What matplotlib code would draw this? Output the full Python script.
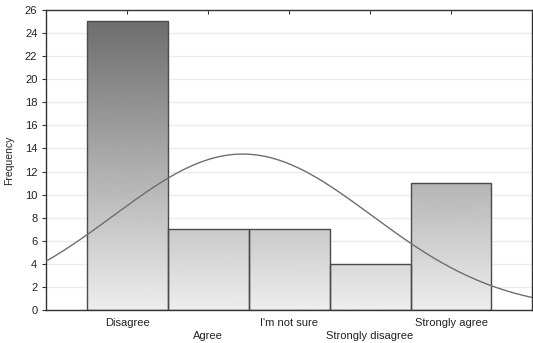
import numpy as np
import matplotlib.pyplot as plt

plt.rcParams['font.family'] = ['Liberation Sans', 'DejaVu Sans']

categories = ['Disagree', 'Agree', "I'm not sure", 'Strongly disagree', 'Strongly agree']
counts = [25, 7, 7, 4, 11]
yticks = list(range(0, 27, 2))

fig = plt.figure(figsize=(5.33, 3.43), dpi=100)
ax = fig.add_axes([0.087, 0.096, 0.911, 0.875])

x = np.arange(1, len(categories) + 1)

# gray gradient: light at bottom, dark at top
grad = np.linspace(0.93, 0.43, 256).reshape(-1, 1)
bars = ax.bar(x, counts, width=1.0, facecolor='none', edgecolor='#4a4a4a', linewidth=1.0, zorder=3)
for b in bars:
    im = ax.imshow(grad, cmap='gray', vmin=0, vmax=1, aspect='auto',
                   extent=[0, 6, 0, 25], origin='lower', zorder=2)
    im.set_clip_path(b)
ax.set_xlim(0, 6)
ax.set_ylim(0, 26)

# fitted normal curve
n = sum(counts)
mean = np.dot(x, counts) / n
sd = np.sqrt(np.dot((x - mean) ** 2, counts) / n)
xs = np.linspace(0, 6, 300)
ys = n / (sd * np.sqrt(2 * np.pi)) * np.exp(-0.5 * ((xs - mean) / sd) ** 2)
ax.plot(xs, ys, color='#6e6e6e', linewidth=1.0, zorder=4)

ax.set_yticks(yticks)
ax.set_xticks(x)
ax.set_xticklabels(categories)
for i, t in enumerate(ax.xaxis.get_major_ticks()):
    t.set_pad(6 if i % 2 == 0 else 15)
ax.tick_params(axis='x', direction='in', top=True, length=3, labelsize=8, colors='#333333', labelcolor='#222222')
ax.tick_params(axis='y', direction='out', right=True, length=3, labelsize=8, colors='#333333', labelcolor='#222222')
ax.yaxis.grid(True, color='#ececec', linewidth=1.0, zorder=0)
ax.set_axisbelow(True)
ax.set_ylabel('Frequency', fontsize=7.5, color='#222222', labelpad=8)
for s in ax.spines.values():
    s.set_color('#333333')
    s.set_linewidth(1.0)

fig.savefig('out.png', dpi=100)
